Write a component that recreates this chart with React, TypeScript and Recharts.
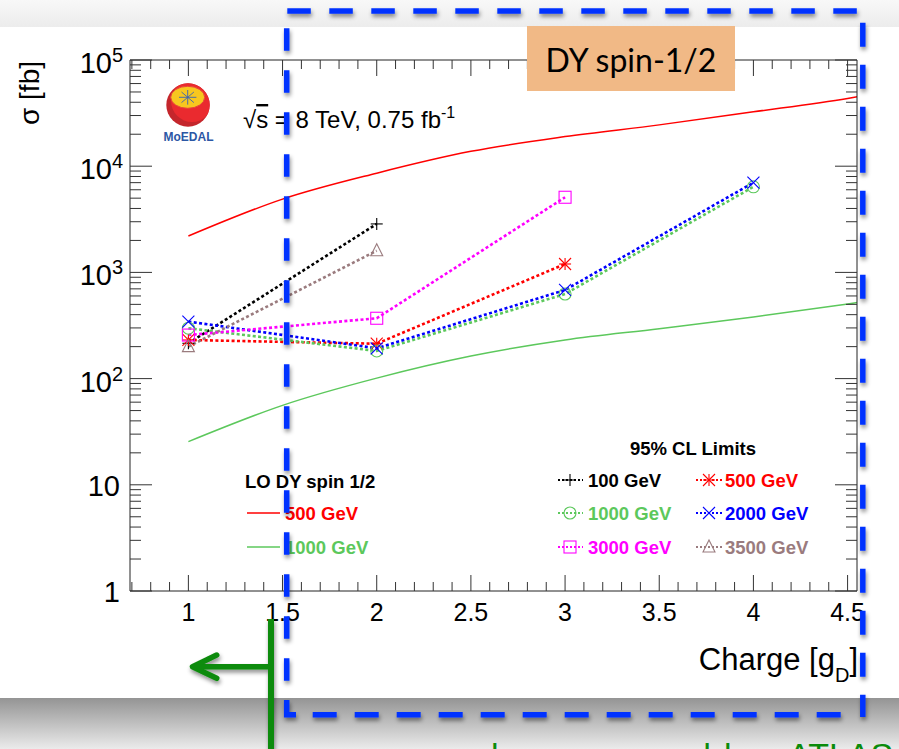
import React from 'react';
import { LineChart, Line, XAxis, YAxis } from 'recharts';

const W = 899;
const H = 749;
const FONT = '"Liberation Sans", Arial, Helvetica, sans-serif';

// LO Drell-Yan spin 1/2 cross sections [fb]
const theoryCharge = [1, 1.5, 2, 2.5, 3, 3.5, 4, 4.5, 4.55];
const theory500 = [2200, 4900, 8600, 13800, 19000, 24500, 32500, 43500, 45000];
const theory1000 = [25.5, 56, 101, 163, 231, 295, 380, 505, 520];

// 95% CL limits [fb]
const lim100Charge = [1, 2];
const lim100 = [215, 2860];
const lim500Charge = [1, 2, 3];
const lim500 = [231, 213, 1200];
const lim1000Charge = [1, 2, 3, 4];
const lim1000 = [298, 182, 626, 6400];
const lim2000Charge = [1, 2, 3, 4];
const lim2000 = [344, 193, 683, 7000];
const lim3000Charge = [1, 2, 3];
const lim3000 = [257, 370, 5100];
const lim3500Charge = [1, 2];
const lim3500 = [200, 1600];

// axes
const xMajorTicks = [1, 1.5, 2, 2.5, 3, 3.5, 4, 4.5];
const xTickLabels = ['1', '1.5', '2', '2.5', '3', '3.5', '4', '4.5'];
const yMajorTicks = [1, 10, 100, 1000, 10000, 100000];
const yTickBase = ['1', '10', '10', '10', '10', '10'];
const yTickExp = ['', '', '2', '3', '4', '5'];

const xMinorTicks: number[] = [];
for (let i = 7; i <= 45; i++) if (i % 5 !== 0) xMinorTicks.push(i / 10);
const xTicks = [...xMinorTicks, ...xMajorTicks];
const yTicks: number[] = [...yMajorTicks];
for (let k = 0; k < 5; k++) for (let d = 2; d <= 9; d++) yTicks.push(d * Math.pow(10, k));

type Pt = { q: number; v: number };
const zip = (qs: number[], vs: number[]): Pt[] => qs.map((q, i) => ({ q, v: vs[i] }));

const RED = '#ff0000';
const GREEN = '#5cc85c';
const BLUE = '#0000ff';
const MAGENTA = '#ff00ff';
const BROWN = '#9a7b7e';

const theorySeries = [
  { name: '500 GeV', color: RED, data: zip(theoryCharge, theory500) },
  { name: '1000 GeV', color: GREEN, data: zip(theoryCharge, theory1000) },
];

const limitSeries = [
  { name: '100 GeV', color: '#000000', marker: 'plus', data: zip(lim100Charge, lim100) },
  { name: '500 GeV', color: RED, marker: 'star', data: zip(lim500Charge, lim500) },
  { name: '1000 GeV', color: GREEN, marker: 'circle', data: zip(lim1000Charge, lim1000) },
  { name: '2000 GeV', color: BLUE, marker: 'cross', data: zip(lim2000Charge, lim2000) },
  { name: '3000 GeV', color: MAGENTA, marker: 'square', data: zip(lim3000Charge, lim3000) },
  { name: '3500 GeV', color: BROWN, marker: 'triangle', data: zip(lim3500Charge, lim3500) },
];

const DOTTED = '3 2.4';

function Marker({ kind, x, y, color }: { kind: string; x: number; y: number; color: string }) {
  const s = 6;
  const st = { stroke: color, strokeWidth: 1.1, fill: 'none' };
  if (kind === 'plus')
    return (
      <g {...st}>
        <line x1={x - s} x2={x + s} y1={y} y2={y} />
        <line x1={x} x2={x} y1={y - s} y2={y + s} />
      </g>
    );
  if (kind === 'circle') return <circle cx={x} cy={y} r={s} {...st} />;
  if (kind === 'square') return <rect x={x - s} y={y - s} width={2 * s} height={2 * s} {...st} />;
  if (kind === 'triangle')
    return <polygon points={`${x},${y - s - 1} ${x - s},${y + s - 1} ${x + s},${y + s - 1}`} {...st} />;
  if (kind === 'cross')
    return (
      <g {...st}>
        <line x1={x - s} x2={x + s} y1={y - s} y2={y + s} />
        <line x1={x - s} x2={x + s} y1={y + s} y2={y - s} />
      </g>
    );
  // asterisk
  return (
    <g {...st}>
      <line x1={x - s} x2={x + s} y1={y} y2={y} />
      <line x1={x} x2={x} y1={y - s} y2={y + s} />
      <line x1={x - s} x2={x + s} y1={y - s} y2={y + s} />
      <line x1={x - s} x2={x + s} y1={y + s} y2={y - s} />
    </g>
  );
}

const isXMajor = (v: number) => Math.abs(v * 2 - Math.round(v * 2)) < 1e-6;

function XTick(props: any) {
  const { x, y, payload, side } = props;
  const v = payload.value;
  const major = isXMajor(v);
  const len = major ? 16 : 9;
  const i = xMajorTicks.findIndex((t) => Math.abs(t - v) < 1e-6);
  return (
    <g>
      <line x1={x} x2={x} y1={y} y2={side === 'bottom' ? y - len : y + len} stroke="#333" />
      {side === 'bottom' && i >= 0 && (
        <text x={x} y={y + 30} textAnchor="middle" fontFamily={FONT} fontSize={25} fill="#000">
          {xTickLabels[i]}
        </text>
      )}
    </g>
  );
}

function YTick(props: any) {
  const { x, y, payload, side } = props;
  const v = payload.value;
  const i = yMajorTicks.indexOf(v);
  const len = i >= 0 ? 22 : 11;
  const x2 = side === 'left' ? x + len : x - len;
  return (
    <g>
      <line x1={x} x2={x2} y1={y} y2={y} stroke="#333" />
      {side === 'left' && i >= 0 && yTickExp[i] === '' && (
        <text x={x - 10} y={y + 11} textAnchor="end" fontFamily={FONT} fontSize={29} fill="#000">
          {yTickBase[i]}
        </text>
      )}
      {side === 'left' && i >= 0 && yTickExp[i] !== '' && (
        <g fontFamily={FONT} fill="#000">
          <text x={x - 18} y={y + 13} textAnchor="end" fontSize={29}>
            {yTickBase[i]}
          </text>
          <text x={x - 18} y={y + 2} textAnchor="start" fontSize={20}>
            {yTickExp[i]}
          </text>
        </g>
      )}
    </g>
  );
}

function Overlay() {
  const legTxt = { fontFamily: FONT, fontSize: 18.5, fontWeight: 700 as const };
  const rightLegend = [
    { s: limitSeries[0], col: 0, row: 0 },
    { s: limitSeries[1], col: 1, row: 0 },
    { s: limitSeries[2], col: 0, row: 1 },
    { s: limitSeries[3], col: 1, row: 1 },
    { s: limitSeries[4], col: 0, row: 2 },
    { s: limitSeries[5], col: 1, row: 2 },
  ];
  const rowY = [480, 513, 547];
  const colX = [{ l0: 558, l1: 583, m: 570, t: 588 }, { l0: 696, l1: 722, m: 709, t: 725 }];
  const blue = '#0433ff';
  const dgreen = '#0b8b0b';
  return (
    <svg width={W} height={H} style={{ position: 'absolute', left: 0, top: 0, pointerEvents: 'none' }}>
      <defs>
        <linearGradient id="topband" x1="0" y1="0" x2="0" y2="1">
          <stop offset="0" stopColor="#f8f8f8" />
          <stop offset="1" stopColor="#ececec" />
        </linearGradient>
        <linearGradient id="botband" x1="0" y1="0" x2="0" y2="1">
          <stop offset="0" stopColor="#949494" />
          <stop offset="1" stopColor="#ebebeb" />
        </linearGradient>
        <filter id="shadow" x="-20%" y="-20%" width="140%" height="140%">
          <feDropShadow dx="1" dy="3" stdDeviation="2" floodColor="#000" floodOpacity="0.45" />
        </filter>
        <clipPath id="logoClip">
          <circle cx={188} cy={105} r={21.7} />
        </clipPath>
      </defs>

      <rect x={0} y={0} width={W} height={27} fill="url(#topband)" />
      <rect x={0} y={698} width={W} height={H - 698} fill="url(#botband)" />

      {/* axis titles */}
      <text
        transform="translate(39,93) rotate(-90)"
        textAnchor="middle"
        fontFamily={FONT}
        fontSize={28}
        fill="#000"
      >
        σ [fb]
      </text>
      <text x={858} y={670} textAnchor="end" fontFamily={FONT} fontSize={31} fill="#000">
        Charge [g
        <tspan dy={12} fontSize={20}>
          D
        </tspan>
        <tspan dy={-12}>]</tspan>
      </text>

      {/* energy / luminosity */}
      <text x={243} y={128} fontFamily={FONT} fontSize={24} fill="#000">
        √<tspan textDecoration="overline">s</tspan> = 8 TeV, 0.75 fb
        <tspan dy={-10} fontSize={16}>
          -1
        </tspan>
      </text>

      {/* MoEDAL logo */}
      <g>
        <circle cx={188} cy={105} r={21.7} fill="#c4262c" />
        <circle cx={192} cy={101} r={21} fill="#ea2a2f" clipPath="url(#logoClip)" />
        <ellipse cx={187.7} cy={97.3} rx={17} ry={11} fill="#f7c71f" stroke="#e6453a" strokeWidth={1} />
        <g stroke="#3a63b2" strokeWidth={0.9}>
          <line x1={179} x2={196.4} y1={97.3} y2={97.3} />
          <line x1={187.7} x2={187.7} y1={90} y2={104.6} />
          <line x1={181.5} x2={193.9} y1={92} y2={102.6} />
          <line x1={181.5} x2={193.9} y1={102.6} y2={92} />
        </g>
        <text x={188.5} y={141} textAnchor="middle" fontFamily={FONT} fontSize={12} fontWeight={700} fill="#2c57a5">
          MoEDAL
        </text>
      </g>

      {/* DY spin-1/2 tag */}
      <rect x={527} y={26} width={208} height={65} fill="#f1b986" />
      <text x={631} y={72} textAnchor="middle" fontFamily="Lato, sans-serif" fontSize={32} fill="#000">
        DY spin-1/2
      </text>

      {/* theory legend */}
      <text x={245} y={488} {...legTxt} fill="#000">
        LO DY spin 1/2
      </text>
      {theorySeries.map((s, i) => (
        <g key={s.name}>
          <line x1={247} x2={280} y1={513 + i * 34} y2={513 + i * 34} stroke={s.color} strokeWidth={1.5} />
          <text x={285} y={519.5 + i * 34} {...legTxt} fill={s.color}>
            {s.name}
          </text>
        </g>
      ))}

      {/* limits legend */}
      <text x={693} y={455} textAnchor="middle" {...legTxt} fill="#000">
        95% CL Limits
      </text>
      {rightLegend.map(({ s, col, row }) => {
        const c = colX[col];
        const y = rowY[row];
        return (
          <g key={s.name}>
            <line x1={c.l0} x2={c.l1} y1={y} y2={y} stroke={s.color} strokeWidth={2} strokeDasharray="2 2" />
            <Marker kind={s.marker} x={c.m} y={y} color={s.color} />
            <text x={c.t} y={y + 6.6} {...legTxt} fill={s.color}>
              {s.name}
            </text>
          </g>
        );
      })}

      {/* highlighted region */}
      <g stroke={blue} strokeWidth={5.5} fill="none" filter="url(#shadow)">
        <line x1={287.3} x2={857} y1={11} y2={11} strokeDasharray="23.5 18.5" />
        <line x1={862.8} x2={862.8} y1={22.7} y2={717} strokeDasharray="24 18" />
        <line x1={312.7} x2={841} y1={714.7} y2={714.7} strokeDasharray="24 18" />
        <line x1={286.7} x2={286.7} y1={28.3} y2={690} strokeDasharray="22.5 19.5" />
        <path d="M286.7 700 L286.7 714.7 L296 714.7" />
      </g>

      {/* exclusion arrow */}
      <g stroke={dgreen} fill="none" filter="url(#shadow)">
        <line x1={271} x2={271} y1={619} y2={H + 5} strokeWidth={6} />
        <line x1={271} x2={194} y1={666.7} y2={666.7} strokeWidth={5.5} />
        <path d="M216.7 655 L192.5 666.7 L216.7 678.3" strokeWidth={5.5} strokeLinecap="round" strokeLinejoin="round" />
      </g>
      {/* slide caption, cut by the bottom edge as in the original */}
      <text y={767} fontFamily={FONT} fontSize={34} fill={dgreen}>
        <tspan x={472}>also</tspan>
        <tspan x={590}>covered</tspan>
        <tspan x={724}>by</tspan>
        <tspan x={788}>ATLAS</tspan>
      </text>
    </svg>
  );
}

export default function App() {
  return (
    <div style={{ position: 'absolute', left: 0, top: 0, width: W, height: H, background: '#fff', overflow: 'hidden' }}>
      <LineChart width={W} height={H} margin={{ top: 0, right: 0, bottom: 0, left: 0 }}>
        <XAxis
          xAxisId="b"
          type="number"
          dataKey="q"
          orientation="bottom"
          domain={[0.69, 4.55]}
          allowDataOverflow
          ticks={xTicks}
          interval={0}
          height={158}
          tickSize={0}
          tickMargin={0}
          axisLine={{ stroke: '#222' }}
          tick={(p: any) => <XTick {...p} side="bottom" />}
        />
        <XAxis
          xAxisId="t"
          type="number"
          dataKey="q"
          orientation="top"
          domain={[0.69, 4.55]}
          allowDataOverflow
          ticks={xTicks}
          interval={0}
          height={60}
          tickSize={0}
          tickMargin={0}
          axisLine={{ stroke: '#222' }}
          tick={(p: any) => <XTick {...p} side="top" />}
        />
        <YAxis
          yAxisId="l"
          orientation="left"
          scale="log"
          domain={[1, 100000]}
          allowDataOverflow
          ticks={yTicks}
          interval={0}
          width={130}
          tickSize={0}
          tickMargin={0}
          axisLine={{ stroke: '#222' }}
          tick={(p: any) => <YTick {...p} side="left" />}
        />
        <YAxis
          yAxisId="r"
          orientation="right"
          scale="log"
          domain={[1, 100000]}
          allowDataOverflow
          ticks={yTicks}
          interval={0}
          width={42}
          tickSize={0}
          tickMargin={0}
          axisLine={{ stroke: '#222' }}
          tick={(p: any) => <YTick {...p} side="right" />}
        />
        {theorySeries.map((s) => (
          <Line
            key={'th' + s.name}
            xAxisId="b"
            yAxisId="l"
            data={s.data}
            dataKey="v"
            type="monotone"
            stroke={s.color}
            strokeWidth={1.5}
            dot={false}
            activeDot={false}
            isAnimationActive={false}
          />
        ))}
        {limitSeries.map((s) => (
          <Line
            key={'lim' + s.name}
            xAxisId="b"
            yAxisId="l"
            data={s.data}
            dataKey="v"
            type="linear"
            stroke={s.color}
            strokeWidth={2.6}
            strokeDasharray={DOTTED}
            dot={(p: any) => (
              <Marker key={s.name + '-' + p.index} kind={s.marker} x={p.cx} y={p.cy} color={s.color} />
            )}
            activeDot={false}
            isAnimationActive={false}
          />
        ))}
      </LineChart>
      <Overlay />
    </div>
  );
}
